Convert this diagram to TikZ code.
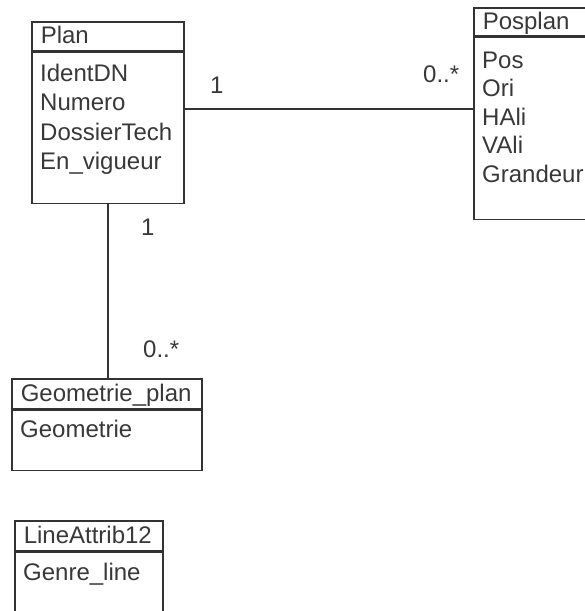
\documentclass[tikz,border=0pt]{standalone}
\usepackage{fontspec}
\setmainfont{Liberation Sans}
\usepackage{tikz}
\usetikzlibrary{positioning}
\definecolor{umlLine}{HTML}{333333}
\definecolor{umlText}{HTML}{383838}

\begin{document}
\begin{tikzpicture}[x=1pt, y=-1pt,
    every node/.style={font=\fontsize{24}{29}\selectfont, text=umlText},
    classhead/.style={draw=umlLine, line width=1.5pt, anchor=north west, align=left,
      inner xsep=9pt, text height=17pt, text depth=2pt},
    classbody/.style={draw=umlLine, line width=1.5pt, anchor=north},
    attr/.style={anchor=base west, inner sep=0pt},
    mult/.style={anchor=base west, inner sep=0pt},
    assoc/.style={draw=umlLine, line width=1.5pt}]
    \useasboundingbox (0,0) rectangle (585,611);
    \clip (0,0) rectangle (585,611);
    % Plan
    \node[classhead, text width=134pt, minimum height=29pt] (plan) at (31,21) {Plan};
    \node[classbody, minimum width=152pt, minimum height=151pt, below=0pt of plan] (plan-body) {};
    \foreach \a [count=\i] in {IdentDN, Numero, DossierTech, En\_vigueur}
      \node[attr] (plan-a\i) at (40, {51.5+29.5*\i}) {\a};
    % Posplan (cut by the right edge)
    \node[classhead, text width=107pt, minimum height=28pt] (posplan) at (473,7) {Posplan};
    \node[classbody, minimum width=125pt, minimum height=182pt, below=0pt of posplan] (posplan-body) {};
    \foreach \a [count=\i] in {Pos, Ori, HAli, VAli, Grandeur}
      \node[attr] (posplan-a\i) at (482, {39.5+28.5*\i}) {\a};
    % Geometrie_plan
    \node[classhead, text width=172pt, minimum height=30pt] (geom) at (11,378) {Geometrie\_plan};
    \node[classbody, minimum width=190pt, minimum height=60pt, below=0pt of geom] (geom-body) {};
    \node[attr] (geom-a1) at (20,437) {Geometrie};
    % LineAttrib12
    \node[classhead, text width=130pt, minimum height=30pt] (lineattr) at (14,520) {LineAttrib12};
    \node[classbody, minimum width=148pt, minimum height=60pt, below=0pt of lineattr] (lineattr-body) {};
    \node[attr] (lineattr-a1) at (23,580) {Genre\_line};
    % Associations
    \coordinate (plan-pos) at (0,109);
    \draw[assoc] (plan-body.east |- plan-pos) -- (posplan-body.west |- plan-pos);
    \draw[assoc] (plan-body.south) -- (plan-body.south |- geom.north);
    % Multiplicities
    \node[mult] (m-plan-1) at (210,93) {1};
    \node[mult] (m-posplan) at (423,82.5) {0..*};
    \node[mult] (m-plan-2) at (141,235) {1};
    \node[mult] (m-geom) at (143,357) {0..*};
\end{tikzpicture}
\end{document}
